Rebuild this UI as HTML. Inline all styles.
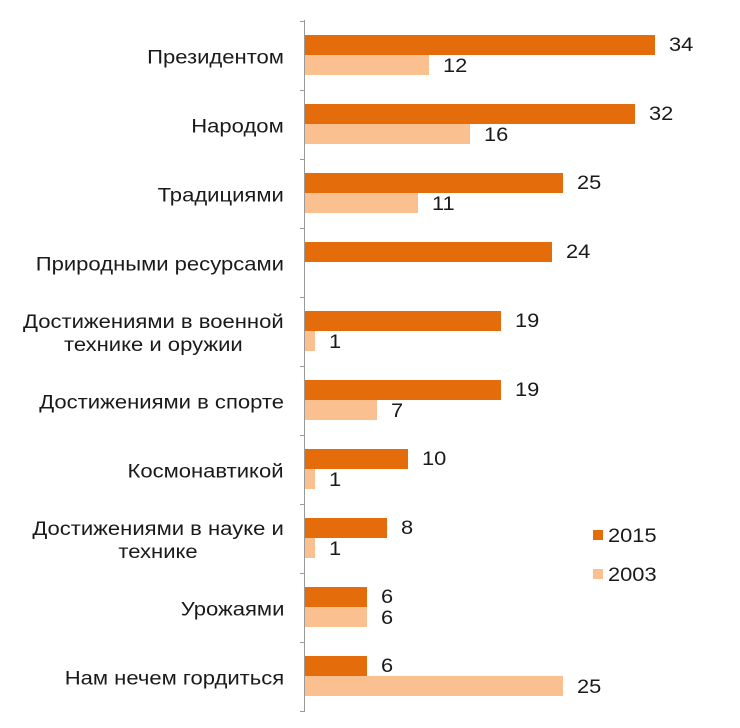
<!DOCTYPE html>
<html><head><meta charset="utf-8"><style>
body{margin:0;background:#fff;width:740px;height:728px;position:relative;overflow:hidden;font-family:"Liberation Sans",Arial,sans-serif;color:#1a1a1a}
.lab{position:absolute;right:456px;font-size:19px;line-height:23px;text-align:center;transform:translateY(-50%) scaleX(1.16);transform-origin:right center;white-space:nowrap}
.b{position:absolute;left:305px;height:20px}
.d{background:#E46C0A}
.l{background:#FAC090}
.v{position:absolute;font-size:19px;line-height:20px;transform:scaleX(1.15);transform-origin:left center}
.ax{position:absolute;left:304px;top:20px;width:1px;height:692px;background:#999}
.tk{position:absolute;left:300px;width:5px;height:1px;background:#999}
</style></head><body>
<div class="ax"></div>
<div id="c"></div>
<div style="position:absolute;left:593px;top:530px;width:10px;height:10px;background:#E46C0A"></div>
<div class="v" style="left:608px;top:527px">2015</div>
<div style="position:absolute;left:593px;top:569px;width:10px;height:10px;background:#FAC090"></div>
<div class="v" style="left:608px;top:566px">2003</div>
<script>
var d=[["Президентом",34,12],["Народом",32,16],["Традициями",25,11],["Природными ресурсами",24,0],["Достижениями в военной<br>технике и оружии",19,1],["Достижениями в спорте",19,7],["Космонавтикой",10,1],["Достижениями в науке и<br>технике",8,1],["Урожаями",6,6],["Нам нечем гордиться",6,25]];
var h="",s=10.3;
d.forEach(function(r,i){var t=35+i*69;
h+='<div class="lab" style="top:'+(t+23)+'px">'+r[0]+'</div>';
h+='<div class="b d" style="top:'+t+'px;width:'+Math.round(r[1]*s)+'px"></div>';
h+='<div class="v" style="top:'+(t+1)+'px;left:'+(305+r[1]*s+14)+'px">'+r[1]+'</div>';
if(r[2]){h+='<div class="b l" style="top:'+(t+20)+'px;width:'+Math.round(r[2]*s)+'px"></div>';
h+='<div class="v" style="top:'+(t+22)+'px;left:'+(305+r[2]*s+14)+'px">'+r[2]+'</div>';}
h+='<div class="tk" style="top:'+(t-14)+'px"></div>';
});
h+='<div class="tk" style="top:711px"></div>';
document.getElementById("c").innerHTML=h;
</script>
</body></html>
